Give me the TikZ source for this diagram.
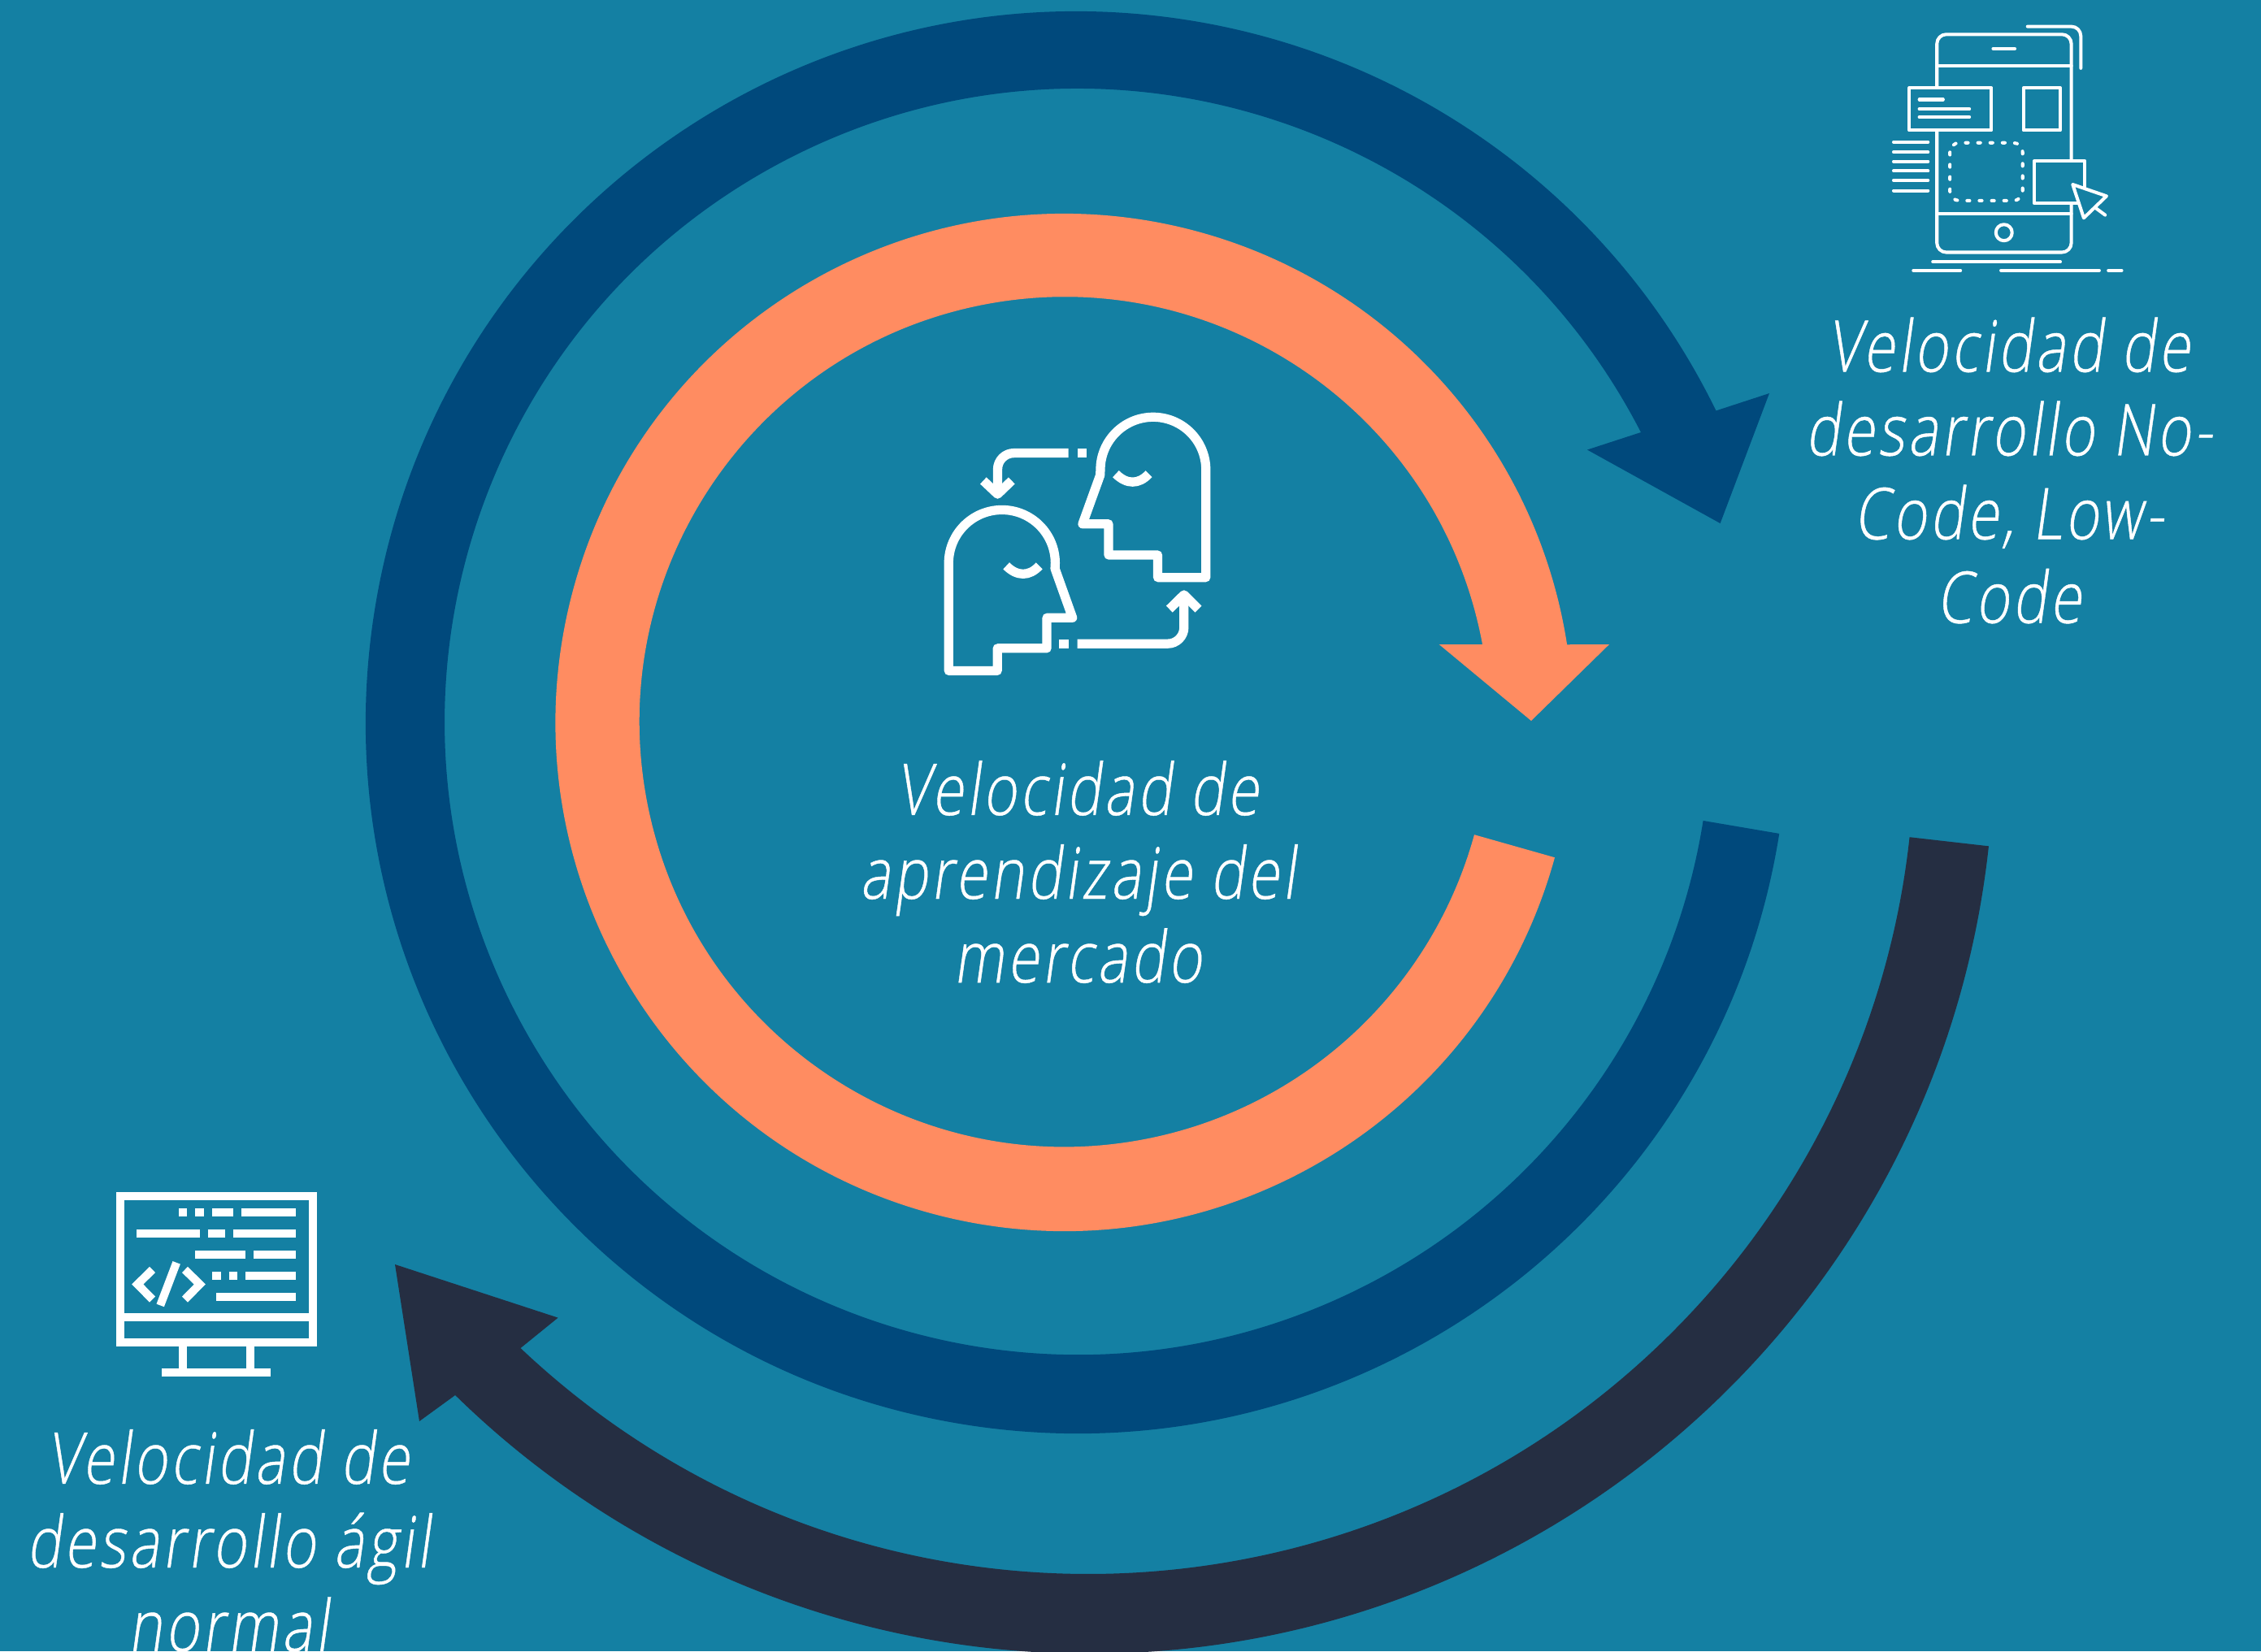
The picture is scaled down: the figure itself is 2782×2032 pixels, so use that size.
\documentclass[tikz,border=0pt]{standalone}
\usepackage{fontspec}
\usepackage{tikz}
\usetikzlibrary{positioning,calc}
\setmainfont{Open Sans Light}[FakeSlant=0.14,FakeStretch=0.8,FakeBold=0.5,LetterSpace=4.7]
\definecolor{bgteal}{HTML}{1480A3}
\definecolor{ringorange}{HTML}{FF8C61}
\definecolor{ringnavy}{HTML}{00497C}
\definecolor{ringdark}{HTML}{252E42}
\tikzset{
  velocity/.style={text=white, align=center, font=\fontsize{25}{29.3}\selectfont},
  iconline/.style={draw=white, line cap=round, line join=round},
}

\begin{document}
\begin{tikzpicture}[x=0.01cm, y=-0.01cm]
    % Background
    \useasboundingbox (0,0) rectangle (2782,2032);
    \clip (0,0) rectangle (2782,2032);
    \fill[bgteal] (0,0) rectangle (2782,2032);

    % Dark ring
    \fill[ringdark] (1339.5,921) ++(6.2:1114) arc[start angle=6.2, end angle=134.4, radius=1114]
        -- (516,1749) -- (486,1556) -- (686.6,1621.6) -- (640.5,1659)
        arc[start angle=133.4, end angle=6.2, radius=1016.6] -- cycle;

    % Navy ring
    \fill[ringnavy] (1325,889) ++(9:875) arc[start angle=9, end angle=334, radius=875]
        -- (2177,484) -- (2116.6,644) -- (1953,553.5) -- (2019,532)
        arc[start angle=332.8, end angle=9, radius=779] -- cycle;

    % Orange ring
    \fill[ringorange] (1309.5,889) ++(15.4:626) arc[start angle=15.4, end angle=351.2, radius=626]
        -- (1980,793) -- (1884,887) -- (1770.7,793) -- (1824,793)
        arc[start angle=349.5, end angle=15.4, radius=523] -- cycle;

    % Labels
    \node[velocity] (phonetext) at (2472,579) {Velocidad de\\desarrollo No-\\Code, Low-\\Code};
    \node[velocity] (markettext) at (1326,1073) {Velocidad de\\aprendizaje del\\mercado};
    \node[velocity] (agiletext) at (281,1896) {Velocidad de\\desarrollo ágil\\normal};

    % Phone icon
    \begin{scope}[shift={(2300,0)}, x=0.00333cm, y=-0.00333cm, iconline, line width=1.15pt]
        \draw[rounded corners=3.3pt] (250,320) -- (250,127) -- (747,127) -- (747,590);
        \draw[rounded corners=3.3pt] (250,485) -- (250,933) -- (747,933) -- (747,755);
        \draw (250,243) -- (747,243);
        \draw (250,790) -- (747,790);
        \draw (458,180) -- (538,180);
        \draw[rounded corners=3.3pt] (585,98) -- (782,98) -- (782,252);
        \draw (148,325) rectangle (452,482);
        \draw (570,325) rectangle (706,482);
        \draw (797,690) -- (797,595) -- (610,595) -- (610,752) -- (775,752);
        \draw (752,682) -- (877,725) -- (793,806) -- cycle;
        \draw (838,770) -- (872,795);
        \draw (185,368) -- (273,368);
        \draw (185,403) -- (370,403);
        \draw (185,433) -- (370,433);
        \foreach \liney in {525,562,597,632,667,705}
            \draw (90,\liney) -- (217,\liney);
        \draw[rounded corners=3.3pt, dash pattern=on 0.9pt off 3.4pt] (298,528) rectangle (567,742);
        \draw (498,860) circle (30);
        \draw (235,968) -- (706,968);
        \draw (163,1000) -- (337,1000);
        \draw (487,1000) -- (850,1000);
        \draw (884,1000) -- (933,1000);
    \end{scope}

    % Heads icon
    \begin{scope}[shift={(1120,480)}, x=0.00333cm, y=-0.00333cm, iconline, line width=3.2pt]
        \draw (1093,693) -- (1093,295) arc[start angle=0, end angle=-180, radius=195]
            -- (702,315) -- (637,495) -- (733,495) -- (733,610) -- (915,610) -- (915,693) -- cycle;
        \draw (142,1038) -- (142,640) arc[start angle=180, end angle=360, radius=197]
            -- (535,660) -- (600,842) -- (505,842) -- (505,955) -- (322,955) -- (322,1038) -- cycle;
        \draw[line cap=butt] (760,310) .. controls (800,350) and (845,350) .. (882,310);
        \draw[line cap=butt] (355,650) .. controls (395,690) and (440,690) .. (477,650);
        \draw[line cap=butt, rounded corners=5.7pt] (585,233) -- (323,233) -- (323,375);
        \draw[line cap=butt, line join=round] (270,335) -- (323,385) -- (375,335);
        \draw[line cap=butt, rounded corners=5.7pt] (618,938) -- (1012,938) -- (1012,765);
        \draw[line cap=butt, line join=round] (958,810) -- (1012,757) -- (1065,810);
        \fill[white] (618,216) rectangle (651,249);
        \fill[white] (551,921) rectangle (585,955);
    \end{scope}

    % Monitor icon
    \begin{scope}[shift={(120,1440)}, x=0.00333cm, y=-0.00333cm, draw=white, line width=2.85pt]
        \draw (84,95) rectangle (795,638);
        \draw (84,545) -- (795,545);
        \draw (316,638) -- (316,748);
        \draw (564,638) -- (564,748);
        \draw (238,748) -- (640,748);
        \foreach \barx/\barend/\bary in {300/332/157,362/394/157,424/502/157,532/734/157,
                145/378/235,408/471/235,501/734/235,362/548/312,578/734/312,
                424/456/390,486/518/390,548/734/390,440/734/468}
            \draw (\barx,\bary) -- (\barend,\bary);
        \draw (203,368) -- (148,422) -- (203,478);
        \draw (323,368) -- (378,422) -- (323,478);
        \draw (292,342) -- (232,500);
    \end{scope}
\end{tikzpicture}
\end{document}
